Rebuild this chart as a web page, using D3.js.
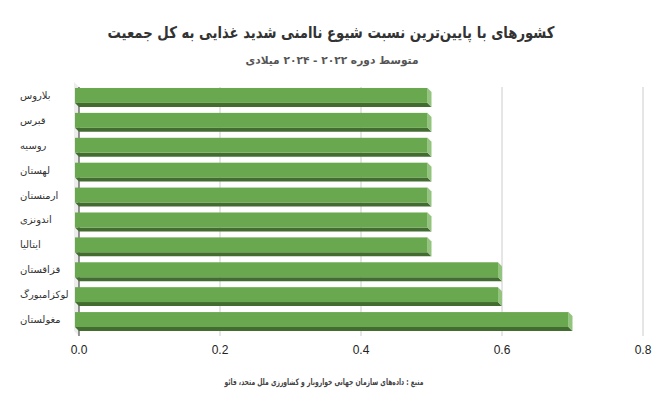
<!DOCTYPE html>
<html><head><meta charset="utf-8">
<script src="https://cdn.jsdelivr.net/npm/d3@7"></script>
<style>body{margin:0;background:#fff}svg{display:block}</style>
</head><body><svg id="c" width="662" height="409"></svg>
<script>
const categories = ["بلاروس","قبرس","روسیه","لهستان","ارمنستان","اندونزی","ایتالیا","قزاقستان","لوکزامبورگ","مغولستان"];
const values = [0.5,0.5,0.5,0.5,0.5,0.5,0.5,0.6,0.6,0.7];
const ticks = [0,0.2,0.4,0.6,0.8];
const title = "کشورهای با پایین‌ترین نسبت شیوع ناامنی شدید غذایی به کل جمعیت";
const subtitle = "متوسط دوره ۲۰۲۲ - ۲۰۲۴ میلادی";
const source = "منبع : داده‌های سازمان جهانی خواروبار و کشاورزی ملل متحد، فائو";

const svg = d3.select("#c");
const font = "'DejaVu Sans', sans-serif";
const x = d3.scaleLinear().domain([0,0.8]).range([79,643]);
const y = d3.scaleBand().domain(categories).range([87,336]).paddingInner(0.4).paddingOuter(0.2);
const d = 4;

// wall
svg.append("polygon").attr("points",[[x(0)-5,82],[x(0),87],[x(0),336],[x(0)-5,331]].join(" ")).attr("fill","#ececec");
// gridlines
svg.append("g").selectAll("line").data(ticks.slice(1)).join("line")
  .attr("x1",t=>x(t)).attr("x2",t=>x(t)).attr("y1",87).attr("y2",336)
  .attr("stroke","#cccccc").attr("stroke-width",1);
svg.append("line").attr("x1",x(0)).attr("x2",x(0)).attr("y1",87).attr("y2",336).attr("stroke","#333").attr("stroke-width",1);

// axis labels
svg.append("g").selectAll("text").data(ticks).join("text")
  .attr("x",t=>x(t)).attr("y",354).attr("text-anchor","middle")
  .attr("font-family","'Liberation Sans', Arial, sans-serif").attr("font-size",12).attr("fill","#222")
  .text(t=>t.toFixed(1));

// bars
const bars = svg.append("g").selectAll("g").data(categories).join("g");
bars.each(function(c,i){
  const g = d3.select(this);
  const xb0 = x(0), xb1 = x(values[i]);
  const yt = y(c), yb = y(c)+y.bandwidth();
  const fx0 = xb0-d, fx1 = xb1-d, fy0 = yt-d, fy1 = yb-d;
  g.append("polygon").attr("points",[[fx0,fy1],[fx1,fy1],[xb1,yb],[xb0,yb]].join(" ")).attr("fill","#436c30");
  g.append("polygon").attr("points",[[fx1,fy0],[xb1,yt],[xb1,yb],[fx1,fy1]].join(" ")).attr("fill","#93c47d");
  g.append("rect").attr("x",fx0).attr("y",fy0).attr("width",fx1-fx0).attr("height",fy1-fy0).attr("fill","#6aa84f");
});

// category labels
svg.append("g").selectAll("text").data(categories).join("text")
  .attr("x",20).attr("y",c=>y(c)+y.bandwidth()/2-d+3.5).attr("text-anchor","start")
  .attr("font-family",font).attr("font-size",10).attr("fill","#333")
  .text(c=>c);

svg.append("text").attr("x",331).attr("y",38).attr("text-anchor","middle")
  .attr("font-family",font).attr("font-weight","bold").attr("font-size",16).attr("fill","#333")
  .attr("textLength",447).attr("lengthAdjust","spacingAndGlyphs").text(title);
svg.append("text").attr("x",332).attr("y",64).attr("text-anchor","middle")
  .attr("font-family",font).attr("font-weight","bold").attr("font-size",11).attr("fill","#555")
  .attr("textLength",173).attr("lengthAdjust","spacingAndGlyphs").text(subtitle);
svg.append("text").attr("x",324).attr("y",385).attr("text-anchor","middle")
  .attr("font-family",font).attr("font-weight","bold").attr("font-size",9).attr("fill","#444")
  .attr("textLength",199).attr("lengthAdjust","spacingAndGlyphs").text(source);
</script></body></html>
